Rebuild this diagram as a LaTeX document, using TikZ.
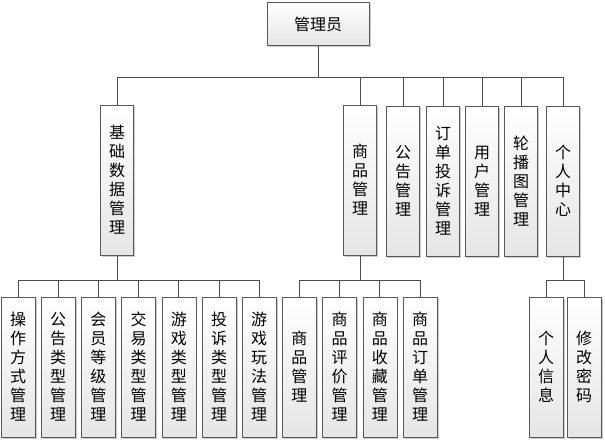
\documentclass[tikz,border=0pt]{standalone}
\usepackage{fontspec}
\newfontfamily\cjk{Noto Sans CJK SC}
\usetikzlibrary{shadows}

\begin{document}
\begin{tikzpicture}[x=1pt,y=-1pt,node distance=40.2pt]
                \tikzstyle{box} = [rectangle, draw=black!65, top color=white, bottom color=black!10, drop shadow={shadow xshift=1.5pt,shadow yshift=-1.5pt,fill=black!35,opacity=0.6}, inner sep=0pt, align=center, font=\cjk\fontsize{16}{19}\selectfont]
                \tikzstyle{topbox} = [box, minimum width=33pt, minimum height=150pt]
                \tikzstyle{subbox} = [box, minimum width=34pt, minimum height=140pt]
                \tikzstyle{line} = [draw=black!70, line width=0.8pt]
                \useasboundingbox (0,0) rectangle (605,444);

                \node (admin) [box, minimum width=102pt, minimum height=43pt] at (318,24) {管理员};

                \node (basic) [topbox] at (117,180) {基\\础\\数\\据\\管\\理};
                \node (goods) [topbox] at (360,180) {商\\品\\管\\理};
                \node (notice) [topbox] at (403,181) {公\\告\\管\\理};
                \node (complain) [topbox] at (443,181) {订\\单\\投\\诉\\管\\理};
                \node (user) [topbox] at (482,181) {用\\户\\管\\理};
                \node (banner) [topbox] at (521,181) {轮\\播\\图\\管\\理};
                \node (center) [topbox] at (563,181) {个\\人\\中\\心};

                \node (optype) [subbox] at (18,367) {操\\作\\方\\式\\管\\理};
                \node (ntype) [subbox, right of=optype] {公\\告\\类\\型\\管\\理};
                \node (level) [subbox, right of=ntype] {会\\员\\等\\级\\管\\理};
                \node (trade) [subbox, right of=level] {交\\易\\类\\型\\管\\理};
                \node (gtype) [subbox, right of=trade] {游\\戏\\类\\型\\管\\理};
                \node (ctype) [subbox, right of=gtype] {投\\诉\\类\\型\\管\\理};
                \node (play) [subbox, right of=ctype] {游\\戏\\玩\\法\\管\\理};
                \node (item) [subbox, right of=play] {商\\品\\管\\理};
                \node (review) [subbox, right of=item] {商\\品\\评\\价\\管\\理};
                \node (fav) [subbox, right of=review] {商\\品\\收\\藏\\管\\理};
                \node (order) [subbox, right of=fav] {商\\品\\订\\单\\管\\理};
                \node (info) [subbox] at (546,367) {个\\人\\信\\息};
                \node (pwd) [subbox] at (584,367) {修\\改\\密\\码};

                \draw [line] (admin.south) -- ++(0,32) -| (basic.north);
                \draw [line] (admin.south) -- ++(0,32) -| (goods.north);
                \draw [line] (admin.south) -- ++(0,32) -| (notice.north);
                \draw [line] (admin.south) -- ++(0,32) -| (complain.north);
                \draw [line] (admin.south) -- ++(0,32) -| (user.north);
                \draw [line] (admin.south) -- ++(0,32) -| (banner.north);
                \draw [line] (admin.south) -- ++(0,32) -| (center.north);

                \draw [line] (basic.south) -- ++(0,25) -| (optype.north);
                \draw [line] (basic.south) -- ++(0,25) -| (ntype.north);
                \draw [line] (basic.south) -- ++(0,25) -| (level.north);
                \draw [line] (basic.south) -- ++(0,25) -| (trade.north);
                \draw [line] (basic.south) -- ++(0,25) -| (gtype.north);
                \draw [line] (basic.south) -- ++(0,25) -| (ctype.north);
                \draw [line] (basic.south) -- ++(0,25) -| (play.north);

                \draw [line] (goods.south) -- ++(0,25) -| (item.north);
                \draw [line] (goods.south) -- ++(0,25) -| (review.north);
                \draw [line] (goods.south) -- ++(0,25) -| (fav.north);
                \draw [line] (goods.south) -- ++(0,25) -| (order.north);

                \draw [line] (center.south) -- ++(0,24) -| (info.north);
                \draw [line] (center.south) -- ++(0,24) -| (pwd.north);
            \end{tikzpicture}
\end{document}
